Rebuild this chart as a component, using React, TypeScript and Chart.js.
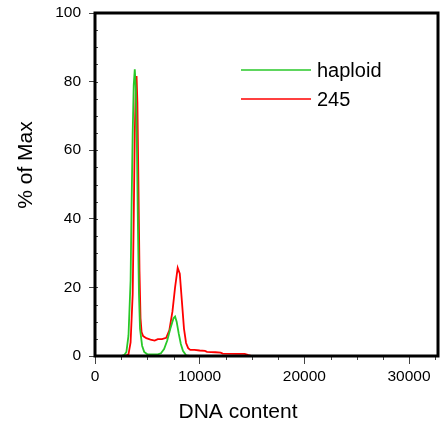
import React, { useEffect, useRef } from "react";
import { Chart, registerables } from "chart.js";

Chart.register(...registerables);

// ---- data ----
const seriesLabels = ["haploid", "245"];
const haploidX = [0, 2500, 2800, 3000, 3200, 3400, 3500, 3600, 3700, 3800, 3900, 4000, 4100, 4200, 4300, 4500, 4700, 5000, 5500, 6000, 6300, 6600, 6900, 7200, 7500, 7650, 7800, 8000, 8200, 8400, 8700, 9000, 32768];
const haploidY = [0, 0, 0.3, 1.2, 6, 22, 45, 65, 79, 83.6, 78, 62, 38, 18, 8, 3, 1.2, 0.5, 0.5, 0.5, 0.8, 2, 4.5, 8, 11, 11.5, 10, 6.5, 3.5, 1.5, 0.2, 0, 0];
const strain245X = [0, 2900, 3200, 3400, 3600, 3700, 3800, 3900, 3970, 4050, 4150, 4250, 4350, 4450, 4600, 4900, 5300, 5700, 6000, 6400, 6800, 7100, 7400, 7650, 7900, 8100, 8300, 8500, 8700, 8900, 9100, 9500, 10000, 10500, 10700, 11500, 12000, 12200, 13500, 14300, 14600, 15000, 32768];
const strain245Y = [0, 0, 0.5, 4, 18, 40, 65, 79, 81.6, 74, 50, 25, 11, 7, 5.8, 5.2, 4.8, 4.5, 4.9, 4.9, 5.3, 7.5, 13, 20, 25.7, 24, 16, 8, 3.8, 2.3, 1.8, 1.8, 1.6, 1.5, 1.2, 1.1, 1.0, 0.7, 0.6, 0.6, 0.3, 0, 0];
const xMin = 0;
const xMax = 32768;
const xTickValues = [0, 10000, 20000, 30000];
const xMinorStep = 2500;
const yMin = 0;
const yMax = 100;
const yTickValues = [0, 20, 40, 60, 80, 100];
const yMinorStep = 5;
const xTitle = "DNA content";
const yTitle = "% of Max";

const FONT = "Arial, 'Liberation Sans', Helvetica, sans-serif";
const GREEN = "rgb(40,200,40)";
const RED = "rgb(255,0,0)";

const decorPlugin = {
  id: "decor",
  afterDraw(chart: any) {
    const ctx = chart.ctx;
    const ca = chart.chartArea;
    const xs = chart.scales.x;
    const ys = chart.scales.y;
    ctx.save();
    // minor ticks x (below axis)
    ctx.strokeStyle = "#444";
    ctx.lineWidth = 1;
    for (let v = xMin; v <= xMax; v += xMinorStep) {
      if (xTickValues.includes(v)) continue;
      const px = Math.round(xs.getPixelForValue(v)) + 0.5;
      ctx.beginPath();
      ctx.moveTo(px, ca.bottom);
      ctx.lineTo(px, ca.bottom + 4);
      ctx.stroke();
    }
    // minor ticks y (inside)
    for (let v = yMin; v <= yMax; v += yMinorStep) {
      const py = Math.round(ys.getPixelForValue(v)) + 0.5;
      ctx.beginPath();
      ctx.moveTo(ca.left, py);
      ctx.lineTo(ca.left + 3, py);
      ctx.stroke();
    }
    // frame
    ctx.strokeStyle = "#000";
    ctx.lineWidth = 3;
    ctx.strokeRect(ca.left, ca.top, ca.right - ca.left, ca.bottom - ca.top);

    // axis titles
    ctx.fillStyle = "#000";
    ctx.font = `21px ${FONT}`;
    ctx.textAlign = "center";
    ctx.textBaseline = "alphabetic";
    ctx.fillText(xTitle, 238, 418);
    ctx.save();
    ctx.translate(32, 165);
    ctx.rotate(-Math.PI / 2);
    ctx.fillText(yTitle, 0, 0);
    ctx.restore();

    // legend
    ctx.font = `20px ${FONT}`;
    ctx.textAlign = "left";
    ctx.textBaseline = "middle";
    const legendY = [70, 99];
    chart.data.datasets.forEach((ds: any, i: number) => {
      const y = legendY[i];
      ctx.strokeStyle = ds.borderColor;
      ctx.lineWidth = 1.5;
      ctx.beginPath();
      ctx.moveTo(241, y);
      ctx.lineTo(311, y);
      ctx.stroke();
      ctx.fillStyle = "#000";
      ctx.fillText(ds.label, 317, y + 1);
    });
    ctx.restore();
  },
};

export default function App() {
  const ref = useRef<HTMLCanvasElement>(null);
  useEffect(() => {
    if (!ref.current) return;
    const toPts = (xs: number[], ys: number[]) => xs.map((x, i) => ({ x, y: ys[i] }));
    const chart = new Chart(ref.current, {
      type: "line",
      data: {
        datasets: [
          {
            label: seriesLabels[0],
            data: toPts(haploidX, haploidY),
            borderColor: GREEN,
            borderWidth: 1.8,
            pointRadius: 0,
            tension: 0,
            fill: false,
          },
          {
            label: seriesLabels[1],
            data: toPts(strain245X, strain245Y),
            borderColor: RED,
            borderWidth: 1.8,
            pointRadius: 0,
            tension: 0,
            fill: false,
          },
        ],
      },
      options: {
        responsive: false,
        animation: false,
        layout: { padding: { left: 0, top: 13, right: 5, bottom: 0 } },
        plugins: { legend: { display: false }, tooltip: { enabled: false } },
        scales: {
          x: {
            type: "linear",
            min: xMin,
            max: xMax,
            afterFit: (s: any) => { s.height = 72; s.paddingRight = 0; s.paddingLeft = 0; },
            afterBuildTicks: (s: any) => { s.ticks = xTickValues.map((v) => ({ value: v })); },
            ticks: {
              autoSkip: false,
              maxRotation: 0,
              padding: 3,
              color: "#000",
              font: { family: FONT, size: 15.5 },
              callback: (v: any) => String(v),
            },
            grid: { drawOnChartArea: false, drawTicks: true, tickLength: 8, tickColor: "#444", tickWidth: 1 },
            border: { display: false },
          },
          y: {
            min: yMin,
            max: yMax,
            afterFit: (s: any) => { s.width = 95; s.paddingTop = 0; s.paddingBottom = 0; },
            afterBuildTicks: (s: any) => { s.ticks = yTickValues.map((v) => ({ value: v })); },
            ticks: {
              padding: 8,
              color: "#000",
              font: { family: FONT, size: 15.5 },
              callback: (v: any) => String(v),
            },
            grid: { drawOnChartArea: false, drawTicks: true, tickLength: 6, tickColor: "#444", tickWidth: 1 },
            border: { display: false },
          },
        },
      },
      plugins: [decorPlugin],
    });
    return () => chart.destroy();
  }, []);
  return (
    <div style={{ position: "absolute", left: 0, top: 0, width: 443, height: 428, background: "#fff" }}>
      <canvas ref={ref} width={443} height={428} style={{ display: "block" }} />
    </div>
  );
}
